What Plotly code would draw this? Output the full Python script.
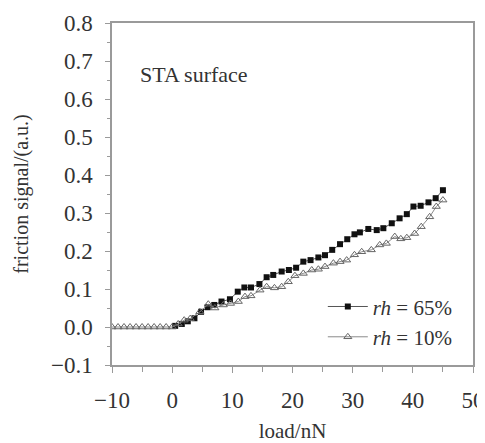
import plotly.graph_objects as go

# rh = 65 % series (filled squares)
load_65 = [0.5, 1.6, 2.6, 3.7, 4.8, 5.9, 7.0, 8.2, 9.6, 10.9, 12.0, 13.1, 14.5, 15.7, 16.8,
           18.2, 19.4, 20.6, 21.8, 23.0, 24.3, 25.4, 26.6, 27.9, 29.1, 30.3, 31.2, 32.6,
           34.0, 35.1, 36.5, 37.8, 39.0, 40.1, 41.3, 42.6, 43.8, 45.0]
fric_65 = [0.003, 0.008, 0.015, 0.023, 0.040, 0.052, 0.058, 0.067, 0.073, 0.093, 0.104,
           0.104, 0.113, 0.131, 0.137, 0.146, 0.150, 0.156, 0.172, 0.176, 0.183, 0.189,
           0.203, 0.218, 0.231, 0.244, 0.249, 0.258, 0.255, 0.260, 0.273, 0.286, 0.297,
           0.317, 0.319, 0.328, 0.339, 0.360]

# rh = 10 % series (open triangles)
load_10 = [-10, -9, -8, -7, -6, -5, -4, -3, -2, -1, 0, 1.0, 2.0, 3.0, 4.6, 6.0, 7.1, 8.5,
           9.7, 11.0, 12.1, 13.1, 14.6, 15.7, 17.0, 18.2, 19.3, 20.4, 21.8, 23.2, 24.3,
           25.4, 26.8, 27.9, 29.0, 30.3, 31.5, 33.1, 34.5, 35.6, 37.0, 38.0, 39.0, 40.3,
           41.4, 42.8, 43.9, 45.0]
fric_10 = [0.0, 0.0, 0.0, 0.0, 0.0, 0.0, 0.0, 0.0, 0.0, 0.0, 0.0, 0.008, 0.018, 0.022,
           0.040, 0.060, 0.050, 0.058, 0.062, 0.067, 0.080, 0.082, 0.097, 0.106, 0.103,
           0.106, 0.119, 0.135, 0.141, 0.150, 0.152, 0.159, 0.168, 0.172, 0.176, 0.190,
           0.198, 0.203, 0.216, 0.220, 0.238, 0.232, 0.235, 0.246, 0.264, 0.290, 0.317,
           0.334]

series_names = ["<i>rh</i> = 65%", "<i>rh</i> = 10%"]
annotation_text = "STA surface"
x_title = "load/nN"
y_title = "friction signal/(a.u.)"

FONT = "Liberation Serif, Times New Roman, serif"
AXC = "#9a9a9a"
TXT = "#333333"

fig = go.Figure()
fig.add_trace(go.Scatter(
    x=load_65, y=fric_65, mode="lines+markers", name=series_names[0],
    line=dict(color="#555555", width=1),
    marker=dict(symbol="square", size=6, color="#111111", line=dict(width=0)),
))
fig.add_trace(go.Scatter(
    x=load_10, y=fric_10, mode="lines+markers", name=series_names[1],
    line=dict(color="#8a8a8a", width=1),
    marker=dict(symbol="triangle-up-open", size=7, color="#666666", line=dict(width=1)),
))

fig.add_annotation(x=-5.7, y=0.664, xref="x", yref="y", text=annotation_text,
                   showarrow=False, xanchor="left", yanchor="middle",
                   font=dict(family=FONT, size=22, color=TXT))

# page body adds an 8px offset, so the figure is 8px smaller and margins shifted
fig.update_layout(
    width=477, height=435,
    margin=dict(l=104, r=12, t=15, b=78),
    paper_bgcolor="white", plot_bgcolor="white",
    font=dict(family=FONT, size=20, color=TXT),
    legend=dict(x=0.584, y=0.23, xanchor="left", yanchor="top",
                bgcolor="rgba(0,0,0,0)", font=dict(family=FONT, size=21, color=TXT),
                tracegroupgap=0, itemwidth=40),
    showlegend=True,
)
fig.update_xaxes(
    range=[-10, 50], dtick=10, tick0=-10, automargin=False,
    showline=True, linecolor=AXC, linewidth=1.5, mirror=True,
    ticks="outside", ticklen=6, tickcolor=AXC, tickwidth=1,
    minor=dict(dtick=5, ticks="outside", ticklen=5, tickcolor=AXC),
    showgrid=False, zeroline=False,
    tickfont=dict(family=FONT, size=23, color=TXT),
    ticklabelstandoff=8,
    title=dict(text=x_title, font=dict(family=FONT, size=21, color=TXT), standoff=17),
)
fig.update_yaxes(
    range=[-0.1, 0.8], dtick=0.1, tick0=0, tickformat=".1f", automargin=False,
    showline=True, linecolor=AXC, linewidth=1.5, mirror=True,
    ticks="outside", ticklen=5, tickcolor=AXC, tickwidth=1,
    minor=dict(dtick=0.05, ticks="outside", ticklen=3, tickcolor=AXC),
    showgrid=False, zeroline=False,
    tickfont=dict(family=FONT, size=23, color=TXT),
    ticklabelstandoff=8,
    title=dict(text=y_title, font=dict(family=FONT, size=20, color=TXT), standoff=17),
)

fig.write_html("out.html")
